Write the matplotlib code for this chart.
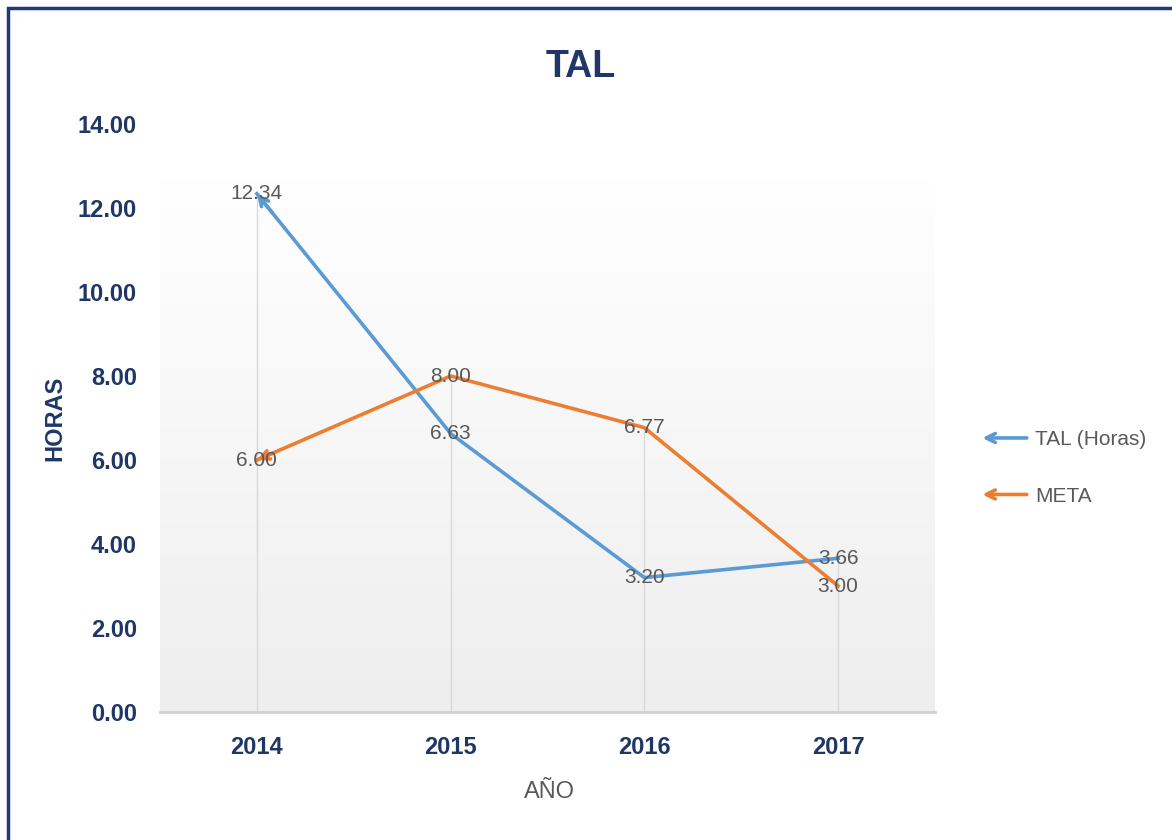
import numpy as np
import matplotlib.pyplot as plt
from matplotlib.lines import Line2D
from matplotlib.patches import FancyArrowPatch, Rectangle
from matplotlib.legend_handler import HandlerBase
from matplotlib.colors import LinearSegmentedColormap

years = ['2014', '2015', '2016', '2017']
tal = [12.34, 6.63, 3.20, 3.66]
meta = [6.00, 8.00, 6.77, 3.00]
yticks = [0, 2, 4, 6, 8, 10, 12, 14]

NAVY = '#1F3767'
GREY_TXT = '#595959'
BLUE = '#5B9BD5'
ORANGE = '#ED7D31'

plt.rcParams['font.family'] = ['Liberation Sans', 'DejaVu Sans']


class ArrowHandler(HandlerBase):
    def create_artists(self, legend, orig_handle, xdescent, ydescent,
                       width, height, fontsize, trans):
        y = height / 2 - ydescent
        arr = FancyArrowPatch((width - xdescent, y), (-xdescent, y),
                              arrowstyle='->', mutation_scale=16, lw=2.6,
                              color=orig_handle.get_color(), transform=trans)
        return [arr]


fig = plt.figure(figsize=(11.72, 8.4), dpi=100)
ax = fig.add_axes([160 / 1172, 1 - 712 / 840, 775 / 1172, 588 / 840])

x = np.arange(len(years))
ax.set_xlim(-0.5, len(years) - 0.5)
ax.set_ylim(0, 14)

# gradient plot area
cmap = LinearSegmentedColormap.from_list('bg', ['#ffffff', '#eeeeee'])
grad = np.linspace(0, 1, 256).reshape(-1, 1)
ax.imshow(grad, extent=[-0.5, len(years) - 0.5, 0, 12.7], aspect='auto',
          cmap=cmap, origin='upper', zorder=0)

# drop lines
tops = np.maximum(tal, meta)
ax.vlines(x, 0, tops, color='#d9d9d9', lw=1, zorder=1)

l1, = ax.plot(x, tal, color=BLUE, lw=2.6, label='TAL (Horas)', zorder=3)
l2, = ax.plot(x, meta, color=ORANGE, lw=2.6, label='META', zorder=3)

# begin arrows
for s, c in [(tal, BLUE), (meta, ORANGE)]:
    p0 = np.array([x[0], s[0]])
    p1 = np.array([x[1], s[1]])
    ax.annotate('', xy=p0, xytext=p0 + (p1 - p0) * 0.08,
                arrowprops=dict(arrowstyle='->', color=c, lw=2.6,
                                mutation_scale=16, shrinkA=0, shrinkB=0),
                zorder=3)

for s in (tal, meta):
    for xi, v in zip(x, s):
        ax.text(xi, v, f'{v:.2f}', ha='center', va='center',
                fontsize=15, color=GREY_TXT, zorder=4)

for sp in ['top', 'right', 'left']:
    ax.spines[sp].set_visible(False)
ax.spines['bottom'].set_color('#d0d0d0')
ax.spines['bottom'].set_linewidth(2)
ax.set_xticks(x)
ax.set_xticklabels(years)
ax.set_yticks(yticks)
ax.set_yticklabels([f'{v:.2f}' for v in yticks])
ax.tick_params(length=0, labelsize=17, labelcolor=NAVY)
ax.tick_params(axis='x', pad=17)
ax.tick_params(axis='y', pad=16.5)
for lab in ax.get_xticklabels() + ax.get_yticklabels():
    lab.set_fontweight('bold')

ax.set_xlabel('AÑO', fontsize=17, color=GREY_TXT)
ax.xaxis.set_label_coords((549 - 160) / 775, (712 - 792) / 588)
ax.xaxis.label.set_va('center')
ax.set_ylabel('HORAS', fontsize=17, color=NAVY, fontweight='bold')
ax.yaxis.set_label_coords((55 - 160) / 775, 0.5)
ax.yaxis.label.set_va('center')

fig.text(581 / 1172, 1 - 67 / 840, 'TAL', ha='center', va='center',
         fontsize=27, fontweight='bold', color=NAVY)

ax.legend(handles=[l1, l2], handler_map={Line2D: ArrowHandler()},
          loc='center left', bbox_to_anchor=(965 / 1172, 1 - 468 / 840),
          bbox_transform=fig.transFigure, frameon=False, fontsize=15,
          labelcolor=GREY_TXT, handlelength=2.4, handletextpad=0.25,
          labelspacing=1.8, borderpad=0.2)

# figure border (left and top visible)
fig.patches.append(Rectangle((8 / 1172, -0.1), 1.2, 1 - 8 / 840 + 0.1,
                             transform=fig.transFigure, fill=False,
                             edgecolor='#1F3A78', lw=2.5))

fig.savefig('out.png', dpi=100)
